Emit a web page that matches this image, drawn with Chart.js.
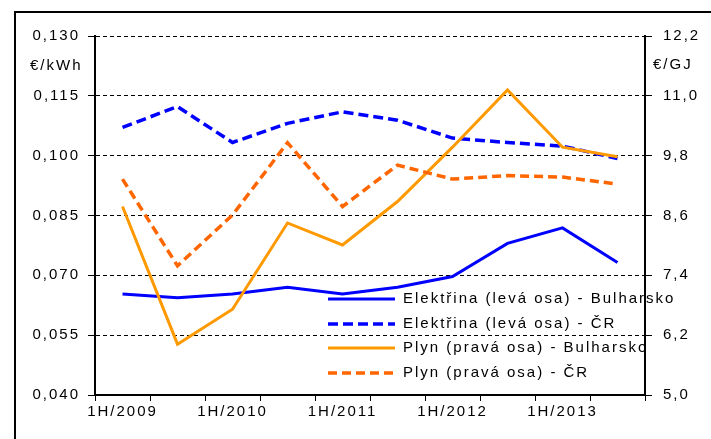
<!DOCTYPE html>
<html><head><meta charset="utf-8">
<script src="https://cdn.jsdelivr.net/npm/chart.js@4/dist/chart.umd.min.js"></script>
<style>
html,body{margin:0;padding:0;background:#fff;overflow:hidden;width:711px;height:439px;}
#frame{position:absolute;left:14px;top:11px;width:760px;height:500px;border:2px solid #000;box-sizing:border-box;}
#wrap{position:absolute;left:0;top:0;width:711px;height:439px;}
</style></head><body>
<div id="frame"></div>
<div id="wrap"><canvas id="c" width="711" height="439"></canvas></div>
<script>
const categories = ["1H/2009","2H/2009","1H/2010","2H/2010","1H/2011","2H/2011","1H/2012","2H/2012","1H/2013","2H/2013"];
const elekBG = [0.0653, 0.0644, 0.0653, 0.0670, 0.0653, 0.0670, 0.0697, 0.0780, 0.0819, 0.0732];
const elekCR = [0.1071, 0.1123, 0.1033, 0.1081, 0.1110, 0.1089, 0.1044, 0.1033, 0.1024, 0.0993];
const plynBG = [8.78, 6.02, 6.72, 8.45, 8.01, 8.88, 9.97, 11.12, 9.97, 9.78];
const plynCR = [9.33, 7.59, 8.61, 10.06, 8.78, 9.61, 9.33, 9.40, 9.37, 9.23];
const leftTicks = [0.040, 0.055, 0.070, 0.085, 0.100, 0.115, 0.130];
const rightTicks = [5.0, 6.2, 7.4, 8.6, 9.8, 11.0, 12.2];
const seriesNames = ["Elektřina (levá osa) - Bulharsko","Elektřina (levá osa) - ČR","Plyn (pravá osa) - Bulharsko","Plyn (pravá osa) - ČR"];
const leftUnit = "€/kWh";
const rightUnit = "€/GJ";

const FONT = '"Liberation Sans", Arial, sans-serif';
const LS = '2px';
Chart.defaults.font.family = FONT;
Chart.defaults.font.size = 15;
Chart.defaults.color = '#000';

const spacingPlugin = {
  id: 'spacing',
  beforeInit(c){ c.ctx.letterSpacing = LS; },
  beforeUpdate(c){ c.ctx.letterSpacing = LS; },
  beforeLayout(c){ c.ctx.letterSpacing = LS; },
  beforeDraw(c){ c.ctx.letterSpacing = LS; }
};

const extrasPlugin = {
  id: 'extras',
  afterDatasetsDraw(chart){
    const ctx = chart.ctx;
    ctx.save();
    ctx.letterSpacing = LS;
    ctx.font = '15px ' + FONT;
    ctx.fillStyle = '#000';
    ctx.textBaseline = 'middle';
    ctx.textAlign = 'left';
    ctx.fillText(leftUnit, 30, 66);
    ctx.fillText(rightUnit, 653, 65);
    const rows = [299, 324, 348, 373];
    chart.data.datasets.forEach((ds, i) => {
      const y = rows[i];
      ctx.save();
      ctx.strokeStyle = ds.borderColor;
      ctx.lineWidth = ds.borderWidth;
      ctx.setLineDash(ds.borderDash || []);
      ctx.beginPath();
      ctx.moveTo(328, y);
      ctx.lineTo(395, y);
      ctx.stroke();
      ctx.restore();
      ctx.fillText(ds.label, 403, y);
    });
    ctx.restore();
  }
};

new Chart(document.getElementById('c'), {
  type: 'line',
  data: {
    labels: categories,
    datasets: [
      {label: seriesNames[0], data: elekBG, yAxisID: 'y', borderColor: '#0000FF', borderWidth: 3, order: 4},
      {label: seriesNames[1], data: elekCR, yAxisID: 'y', borderColor: '#0000FF', borderWidth: 3.5, borderDash: [10,5], order: 3},
      {label: seriesNames[2], data: plynBG, yAxisID: 'y1', borderColor: '#FF9900', borderWidth: 3, order: 2},
      {label: seriesNames[3], data: plynCR, yAxisID: 'y1', borderColor: '#FF6600', borderWidth: 3.5, borderDash: [9,5], order: 1}
    ]
  },
  options: {
    responsive: false,
    animation: false,
    devicePixelRatio: 1,
    layout: {padding: {top: 36, left: 0, right: 0, bottom: 0}},
    elements: {point: {radius: 0}, line: {tension: 0, fill: false}},
    plugins: {legend: {display: false}, tooltip: {enabled: false}, title: {display: false}},
    scales: {
      x: {
        type: 'category',
        offset: true,
        grid: {offset: true, drawOnChartArea: false, tickLength: 6, color: '#000', lineWidth: 1},
        border: {color: '#000', width: 2},
        ticks: {autoSkip: false, maxRotation: 0, minRotation: 0, padding: 2,
          callback: (v, i) => categories[i].startsWith('1H') ? categories[i] : ''},
        afterFit: s => { s.height = 44; }
      },
      y: {
        position: 'left',
        min: 0.040, max: 0.130,
        grid: {color: '#000', lineWidth: 1, tickLength: 7},
        border: {color: '#000', width: 2, dash: [4,3]},
        ticks: {padding: 8, callback: v => Number(v).toFixed(3).replace('.', ',')},
        afterBuildTicks: s => { s.ticks = leftTicks.map(v => ({value: v})); },
        afterFit: s => { s.width = 95; }
      },
      y1: {
        position: 'right',
        min: 5.0, max: 12.2,
        grid: {drawOnChartArea: false, color: '#000', lineWidth: 1, tickLength: 7},
        border: {color: '#000', width: 2},
        ticks: {padding: 11, callback: v => Number(v).toFixed(1).replace('.', ',')},
        afterBuildTicks: s => { s.ticks = rightTicks.map(v => ({value: v})); },
        afterFit: s => { s.width = 66; }
      }
    }
  },
  plugins: [spacingPlugin, extrasPlugin]
});
</script>
</body></html>
